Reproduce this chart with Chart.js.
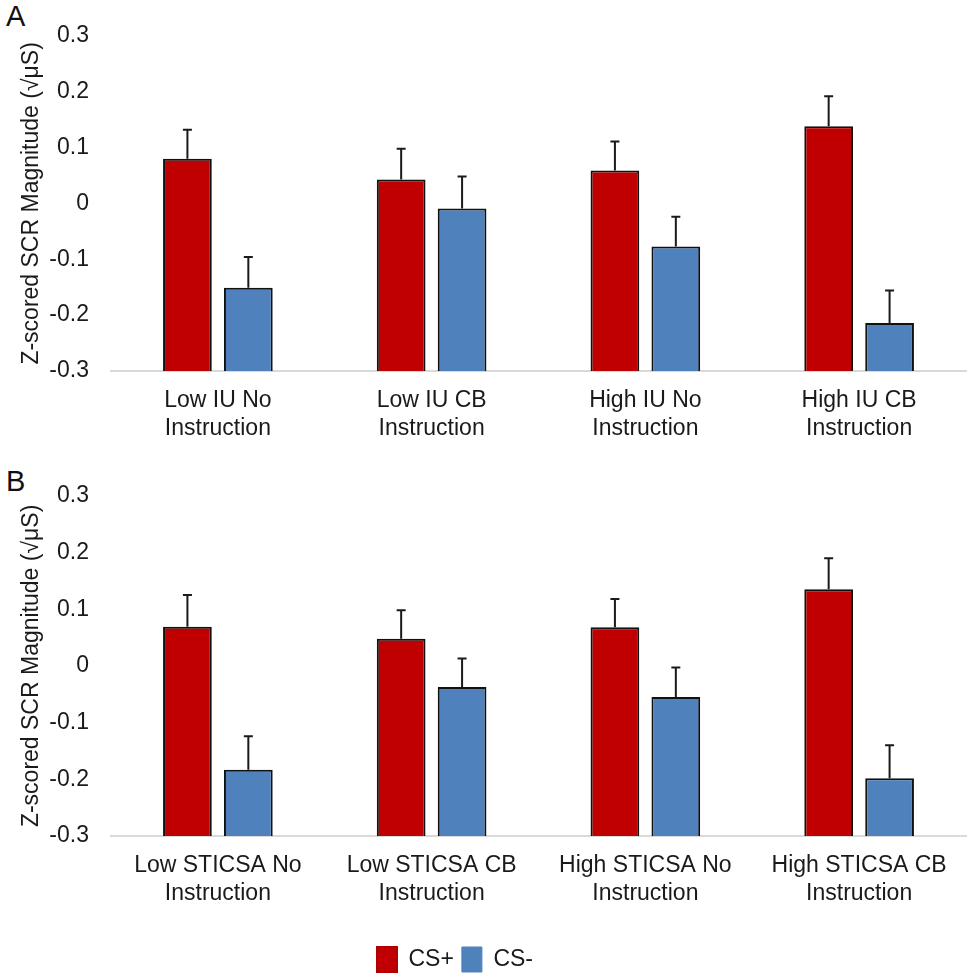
<!DOCTYPE html>
<html>
<head>
<meta charset="utf-8">
<script src="https://cdn.jsdelivr.net/npm/chart.js@4/dist/chart.umd.min.js"></script>
<style>
  body { margin: 0; background: #fff; font-family: "Liberation Sans", Arial, sans-serif; overflow: hidden; }
  .panel { position: absolute; left: 0; width: 969px; }
  .tag { position: absolute; left: 6px; font-size: 29px; color: #111; }
</style>
</head>
<body>
<div class="tag" style="top:0px;">A</div>
<div class="panel" style="top:0px;height:460px;"><canvas id="chartA"></canvas></div>
<div class="tag" style="top:465px;">B</div>
<div class="panel" style="top:460px;height:515px;"><canvas id="chartB"></canvas></div>
<script>
// panel A - intolerance of uncertainty groups
const categoriesA = [['Low IU No', 'Instruction'], ['Low IU CB', 'Instruction'], ['High IU No', 'Instruction'], ['High IU CB', 'Instruction']];
const csPlusA = [0.080, 0.043, 0.059, 0.138];
const csPlusErrA = [0.052, 0.055, 0.052, 0.054];
const csMinusA = [-0.151, -0.009, -0.077, -0.214];
const csMinusErrA = [0.055, 0.057, 0.053, 0.058];

// panel B - STICSA groups
const categoriesB = [['Low STICSA No', 'Instruction'], ['Low STICSA CB', 'Instruction'], ['High STICSA No', 'Instruction'], ['High STICSA CB', 'Instruction']];
const csPlusB = [0.069, 0.048, 0.068, 0.135];
const csPlusErrB = [0.056, 0.050, 0.050, 0.055];
const csMinusB = [-0.183, -0.037, -0.055, -0.198];
const csMinusErrB = [0.059, 0.050, 0.052, 0.058];

const yTitle = 'Z-scored SCR Magnitude (\u221A\u03BCS)';
const red = '#C00000';
const blue = '#4F81BD';
const textColor = '#1a1a1a';
const fontFamily = '"Liberation Sans", Arial, sans-serif';

// draws the upward error bars from each bar top
const errorBars = {
	id: 'errorBars',
	afterDatasetsDraw(chart) {
		const ctx = chart.ctx;
		const yScale = chart.scales.y;
		ctx.save();
		ctx.strokeStyle = '#1a1a1a';
		ctx.lineWidth = 2;
		chart.data.datasets.forEach((ds, i) => {
			const meta = chart.getDatasetMeta(i);
			meta.data.forEach((bar, j) => {
				const top = yScale.getPixelForValue(ds.data[j] + ds.errors[j]);
				ctx.beginPath();
				ctx.moveTo(bar.x, bar.y);
				ctx.lineTo(bar.x, top);
				ctx.moveTo(bar.x - 4.5, top);
				ctx.lineTo(bar.x + 4.5, top);
				ctx.stroke();
			});
		});
		ctx.restore();
	}
};

// the legend in the original sits a bit left of centre
const legendShift = {
	id: 'legendShift',
	afterLayout(chart) {
		if (chart.legend && chart.options.plugins.legend.display) {
			chart.legend.left -= 28;
			chart.legend.right -= 28;
		}
	}
};

function makeChart(id, categories, plus, plusErr, minus, minusErr, withLegend) {
	return new Chart(document.getElementById(id), {
		type: 'bar',
		data: {
			labels: categories,
			datasets: [
				{
					label: 'CS+',
					data: plus,
					errors: plusErr,
					base: -0.3,
					backgroundColor: red,
					borderColor: '#111',
					borderWidth: 2,
					categoryPercentage: 0.57,
					barPercentage: 0.8
				},
				{
					label: 'CS-',
					data: minus,
					errors: minusErr,
					base: -0.3,
					backgroundColor: blue,
					borderColor: '#111',
					borderWidth: 2,
					categoryPercentage: 0.57,
					barPercentage: 0.8
				}
			]
		},
		options: {
			responsive: true,
			maintainAspectRatio: false,
			animation: false,
			layout: { padding: { top: withLegend ? 22 : 20, right: 3, left: 0, bottom: withLegend ? -7 : 9 } },
			plugins: {
				tooltip: { enabled: false },
				legend: {
					display: withLegend,
					position: 'bottom',
					labels: {
						color: textColor,
						font: { family: fontFamily, size: 23 },
						boxWidth: 20,
						boxHeight: 25,
						padding: 8,
						generateLabels: () => [
							{ text: 'CS+', fillStyle: red, strokeStyle: '#b00000', lineWidth: 2, fontColor: textColor, datasetIndex: 0 },
							{ text: 'CS-', fillStyle: blue, strokeStyle: blue, lineWidth: 1, fontColor: textColor, datasetIndex: 1 }
						]
					}
				}
			},
			scales: {
				x: {
					grid: { display: false },
					border: { display: true, color: '#d9d9d9', width: 2 },
					ticks: {
						color: textColor,
						font: { family: fontFamily, size: 23, lineHeight: 1.2 },
						padding: 8,
						maxRotation: 0,
						autoSkip: false
					},
					afterFit(scale) { scale.height = withLegend ? 103 : 80; }
				},
				y: {
					min: -0.3,
					max: 0.3,
					grid: { display: false, drawTicks: false },
					border: { display: false },
					ticks: {
						stepSize: 0.1,
						color: textColor,
						font: { family: fontFamily, size: 23 },
						padding: 22
					},
					title: {
						display: true,
						text: yTitle,
						color: textColor,
						font: { family: fontFamily, size: 23 },
						padding: { top: 18, bottom: 0 }
					},
					afterFit(scale) { scale.width = 111; }
				}
			}
		},
		plugins: [errorBars, legendShift]
	});
}

makeChart('chartA', categoriesA, csPlusA, csPlusErrA, csMinusA, csMinusErrA, false);
makeChart('chartB', categoriesB, csPlusB, csPlusErrB, csMinusB, csMinusErrB, true);
</script>
</body>
</html>
